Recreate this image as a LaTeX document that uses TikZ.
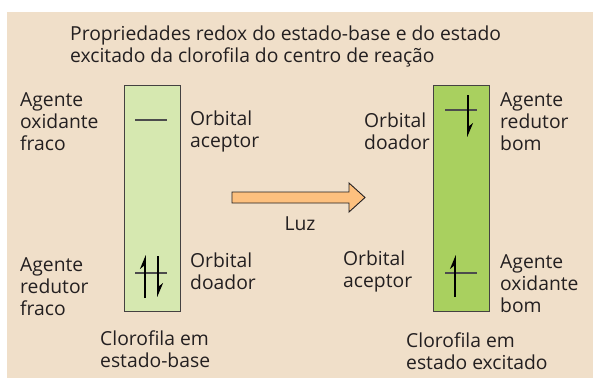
\documentclass[tikz,border=0pt]{standalone}
\usepackage{fontspec}
\setmainfont{Open Sans}
\usetikzlibrary{arrows.meta, positioning}

\definecolor{fundo}{HTML}{F0DFC9}
\definecolor{verdeclaro}{HTML}{D6E8B0}
\definecolor{verdeforte}{HTML}{A9D05F}
\definecolor{laranja}{HTML}{FDC07E}
\definecolor{texto}{HTML}{231F20}

\begin{document}
\begin{tikzpicture}[x=1pt, y=-1pt, >=Stealth,
  font=\fontsize{19.3}{22}\selectfont, text=texto,
  lab/.style={align=left, inner sep=0pt, anchor=west},
  barra/.style={draw=texto!85, line width=0.9pt, inner sep=0pt, minimum width=56pt, minimum height=226pt},
  nivel/.style={draw=black!70, line width=1.1pt},
  spin/.style={-{Stealth[left, length=12pt, width=10pt]}, line width=1.6pt, black}]
\useasboundingbox (0,0) rectangle (593,378);
\fill[fundo] (7,12) rectangle (593,378);

% titulo
\node[lab] (titulo) at (70,46) {Propriedades redox do estado-base e do estado\\excitado da clorofila do centro de reação};

% clorofila em estado-base
\node[barra, fill=verdeclaro] (base) at (152,198) {};
\draw[nivel] (135,120) -- (167,120);
\draw[nivel] (135,273) -- (167,273);
\draw[spin] (145,298) -- (145,255);
\draw[spin] (158,256) -- (158,297);

% clorofila em estado excitado
\node[barra, fill=verdeforte] (exc) at (461,198) {};
\draw[nivel] (445,110) -- (477,110);
\draw[nivel] (445,273) -- (477,273);
\draw[spin] (468,95) -- (468,137);
\draw[spin] (455,297) -- (455,255);

% luz
\draw[draw=texto, line width=0.9pt, fill=laranja] (232,192) -- (349,192) -- (349,183) -- (365,197.5)
  -- (349,212) -- (349,203) -- (232,203) -- cycle;
\node (luz) at (300,224) {Luz};

% rotulos
\node[lab] (oxfraco)  at (20,122)  {Agente\\oxidante\\fraco};
\node[lab] (redfraco) at (20,287)  {Agente\\redutor\\fraco};
\node[lab] (acep1)    at (190,131) {Orbital\\aceptor};
\node[lab] (doad1)    at (190,271) {Orbital\\doador};
\node[lab] (doad2)    at (364,131) {Orbital\\doador};
\node[lab] (acep2)    at (343,271) {Orbital\\aceptor};
\node[lab] (redbom)   at (500,122) {Agente\\redutor\\bom};
\node[lab] (oxbom)    at (500,284) {Agente\\oxidante\\bom};
\node[lab] (cloro1)   at (100,349) {Clorofila em\\estado-base};
\node[lab] (cloro2)   at (406,351) {Clorofila em\\estado excitado};
\end{tikzpicture}
\end{document}
